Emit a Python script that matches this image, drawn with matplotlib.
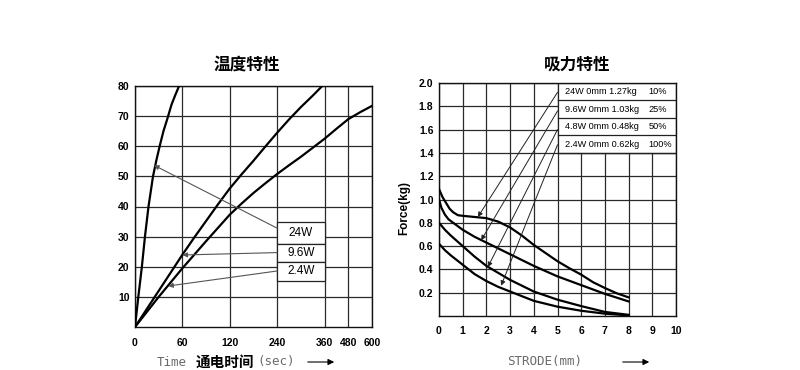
import numpy as np
import matplotlib
matplotlib.use('Agg')
import matplotlib.pyplot as plt
from matplotlib.patches import Rectangle

# ---------------- Temperature chart (温度特性) ----------------
time_ticks = [0, 60, 120, 240, 360, 480, 600]
time_tick_labels = ['0', '60', '120', '240', '360', '480', '600']
time_tick_pos = [0, 1, 2, 3, 4, 4.5, 5]          # uneven axis spacing
temp_ticks = [10, 20, 30, 40, 50, 60, 70, 80]

t_24w = [0, 4.2, 8.7, 12.6, 17.1, 22.8, 27, 31.2, 36, 40.8, 46.2, 51, 55.8]
T_24w = [0, 10, 20, 30, 40, 50, 55.3, 60, 65, 69, 73.8, 77, 80]
t_96w = [0, 15, 30, 45, 60, 75, 90, 105, 120, 150, 180, 210, 240, 270, 300, 330, 354]
T_96w = [0, 6, 12, 18, 24, 29.7, 35.2, 40.7, 46, 50.7, 55.2, 59.9, 64.5, 68.9, 73, 76.8, 80]
t_24w_low = [0, 30, 60, 90, 120, 150, 180, 210, 240, 270, 300, 330, 360, 420, 480, 540, 600]
T_24w_low = [0, 10, 19.5, 28.5, 37.3, 41.0, 44.5, 47.7, 50.8, 53.7, 56.5, 59.5, 62.5, 65.8, 69, 71.3, 73.4]

temp_labels = ['24W', '9.6W', '2.4W']
temp_box_bounds = [(27.7, 34.7), (21.6, 27.7), (15.3, 21.6)]
temp_arrow_start = [(240, 32.8), (240, 24.7), (240, 18.6)]
temp_arrow_end = [(24, 53.7), (60, 23.9), (42, 13.6)]

# ---------------- Force chart (吸力特性) ----------------
stroke_ticks = list(range(0, 11))
force_ticks = [0.2, 0.4, 0.6, 0.8, 1.0, 1.2, 1.4, 1.6, 1.8, 2.0]

s_a = [0, 0.15, 0.3, 0.45, 0.6, 0.8, 1.0, 1.5, 2.0, 2.5, 3.0, 3.5, 4.0, 4.5, 5.0, 5.5, 6.0, 6.5, 7.0, 7.5, 8.0]
f_a = [1.09, 1.02, 0.97, 0.92, 0.89, 0.865, 0.86, 0.85, 0.84, 0.81, 0.76, 0.69, 0.61, 0.54, 0.47, 0.41, 0.355, 0.29, 0.24, 0.195, 0.16]
s_b = [0, 0.1, 0.25, 0.4, 0.6, 1.0, 1.5, 2.0, 2.5, 3.0, 3.5, 4.0, 5.0, 6.0, 7.0, 8.0]
f_b = [1.0, 0.93, 0.87, 0.83, 0.80, 0.74, 0.68, 0.63, 0.58, 0.53, 0.48, 0.43, 0.34, 0.265, 0.19, 0.125]
s_c = [0, 0.25, 0.5, 0.75, 1.0, 1.5, 2.0, 2.5, 3.0, 3.5, 4.0, 5.0, 6.0, 7.0, 8.0]
f_c = [0.80, 0.74, 0.69, 0.645, 0.60, 0.51, 0.43, 0.37, 0.31, 0.26, 0.21, 0.14, 0.085, 0.035, 0.01]
s_d = [0, 0.25, 0.5, 0.75, 1.0, 1.5, 2.0, 2.5, 3.0, 3.5, 4.0, 5.0, 6.0, 7.0, 8.0]
f_d = [0.62, 0.565, 0.52, 0.48, 0.44, 0.36, 0.30, 0.25, 0.21, 0.17, 0.13, 0.08, 0.045, 0.02, 0.005]

force_labels = ['24W 0mm 1.27kg', '9.6W 0mm 1.03kg', '4.8W 0mm 0.48kg', '2.4W 0mm 0.62kg']
force_pcts = ['10%', '25%', '50%', '100%']
force_box_edges = [2.0, 1.85, 1.70, 1.55, 1.40]
force_arrow_start = [(5, 1.92), (5, 1.76), (5, 1.60), (5, 1.47)]
force_arrow_end = [(1.64, 0.85), (1.78, 0.65), (2.06, 0.42), (2.62, 0.26)]

# ---------------- Figure ----------------
W, H = 800, 370
fig = plt.figure(figsize=(8, 3.7), dpi=100)
fig.patch.set_facecolor('white')

tick_font = dict(family='Liberation Sans', weight='bold', size=7.5)
grid_kw = dict(color='#2a2a2a', lw=0.9)


def fx(px):
    return px / W


def fy(py):
    return 1 - py / H


# ---- Left axes ----
ax1 = fig.add_axes([fx(135), fy(327), 237 / W, 241 / H])
fwd = lambda x: np.interp(x, time_ticks, time_tick_pos)
inv = lambda p: np.interp(p, time_tick_pos, time_ticks)
ax1.set_xscale('function', functions=(fwd, inv))
ax1.set_xlim(0, 600)
ax1.set_ylim(0, 80)
ax1.set_xticks(time_ticks)
ax1.set_xticklabels(time_tick_labels)
ax1.set_yticks(temp_ticks)
ax1.set_yticklabels([str(v) for v in temp_ticks])
ax1.minorticks_off()
ax1.tick_params(axis='x', length=0, pad=8)
ax1.tick_params(axis='y', length=0, pad=4)
for lab in ax1.get_xticklabels() + ax1.get_yticklabels():
    lab.set_fontproperties(matplotlib.font_manager.FontProperties(**tick_font))
ax1.grid(True, **grid_kw)
ax1.set_axisbelow(True)
for sp in ax1.spines.values():
    sp.set_color('#111')
    sp.set_linewidth(1.0)

ax1.plot(t_24w, T_24w, color='black', lw=1.6, zorder=3)
ax1.plot(t_96w, T_96w, color='black', lw=1.6, zorder=3)
ax1.plot(t_24w_low, T_24w_low, color='black', lw=1.6, zorder=3)

for lab, (y0, y1) in zip(temp_labels, temp_box_bounds):
    ax1.add_patch(Rectangle((240, y0), 120, y1 - y0, facecolor='white',
                            edgecolor='#222', lw=0.9, zorder=2))
    ax1.text(300, (y0 + y1) / 2, lab, ha='center', va='center',
             family='Liberation Sans', fontsize=8.5, zorder=5)

for (xs, ys), (xe, ye) in zip(temp_arrow_start, temp_arrow_end):
    ax1.annotate('', xy=(xe, ye), xytext=(xs, ys),
                 arrowprops=dict(arrowstyle='-|>', color='#555', lw=0.8,
                                 mutation_scale=7, shrinkA=0, shrinkB=0),
                 zorder=4)

# ---- Right axes ----
ax2 = fig.add_axes([fx(439), fy(316), 237 / W, 233 / H])
ax2.set_xlim(0, 10)
ax2.set_ylim(0, 2.0)
ax2.set_xticks(stroke_ticks)
ax2.set_xticklabels([str(v) for v in stroke_ticks])
ax2.set_yticks(force_ticks)
ax2.set_yticklabels(['%.1f' % v for v in force_ticks])
ax2.tick_params(axis='x', length=0, pad=7)
ax2.tick_params(axis='y', length=0, pad=4)
for lab in ax2.get_xticklabels() + ax2.get_yticklabels():
    lab.set_fontproperties(matplotlib.font_manager.FontProperties(**tick_font))
ax2.grid(True, **grid_kw)
ax2.set_axisbelow(True)
for sp in ax2.spines.values():
    sp.set_color('#111')
    sp.set_linewidth(1.0)

for s, f in [(s_a, f_a), (s_b, f_b), (s_c, f_c), (s_d, f_d)]:
    ax2.plot(s, f, color='black', lw=1.6, zorder=3)

ax2.add_patch(Rectangle((5, force_box_edges[-1]), 5,
                        force_box_edges[0] - force_box_edges[-1],
                        facecolor='white', edgecolor='#222', lw=0.9, zorder=2))
for i in range(len(force_labels)):
    top, bot = force_box_edges[i], force_box_edges[i + 1]
    ax2.plot([5, 10], [bot, bot], color='#222', lw=0.9, zorder=2.5)
    yc = (top + bot) / 2
    ax2.text(5.3, yc, force_labels[i], ha='left', va='center',
             family='Liberation Sans', fontsize=6.6, zorder=5)
    ax2.text(8.85, yc, force_pcts[i], ha='left', va='center',
             family='Liberation Sans', fontsize=6.6, zorder=5, clip_on=True)

for (xs, ys), (xe, ye) in zip(force_arrow_start, force_arrow_end):
    ax2.annotate('', xy=(xe, ye), xytext=(xs, ys),
                 arrowprops=dict(arrowstyle='-|>', color='#222', lw=0.7,
                                 mutation_scale=7, shrinkA=0, shrinkB=0),
                 zorder=4)

# ---- Titles ----
fig.text(fx(247), fy(65), '温度特性', ha='center', va='center', fontsize=12,
         family=['Noto Sans CJK SC'], weight='bold')
fig.text(fx(577), fy(65), '吸力特性', ha='center', va='center', fontsize=12,
         family=['Noto Sans CJK SC'], weight='bold')

# ---- Axis labels ----
gray = '#6a6a6a'
fig.text(fx(157), fy(362), 'Time', ha='left', va='center', fontsize=9,
         family='DejaVu Sans Mono', color=gray)
fig.text(fx(196), fy(362), '通电时间', ha='left', va='center', fontsize=10.5,
         family=['Noto Sans CJK SC'], weight='bold', color='black')
fig.text(fx(257), fy(362), '(sec)', ha='left', va='center', fontsize=9,
         family='DejaVu Sans Mono', color=gray)
fig.text(fx(507), fy(362), 'STRODE(mm)', ha='left', va='center', fontsize=9,
         family='DejaVu Sans Mono', color=gray)
for x0, x1 in [(305, 337), (620, 652)]:
    fig.add_artist(matplotlib.patches.FancyArrowPatch(
        (fx(x0), fy(362)), (fx(x1), fy(362)), transform=fig.transFigure,
        arrowstyle='-|>', mutation_scale=9, color='black', lw=0.8))

fig.text(fx(404), fy(208), 'Force(kg)', ha='center', va='center', rotation=90,
         fontsize=8.5, family='Liberation Sans', weight='bold')

fig.savefig('out.png', dpi=100, facecolor='white')
